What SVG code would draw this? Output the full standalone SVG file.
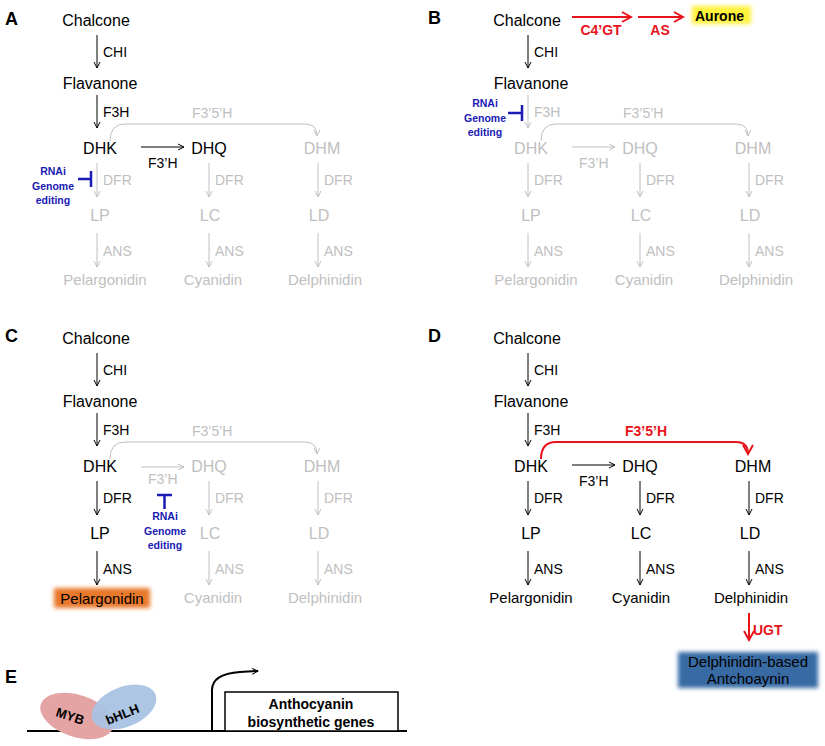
<svg xmlns="http://www.w3.org/2000/svg" width="825" height="746" viewBox="0 0 825 746">
<style>
text{font-family:"Liberation Sans",Arial,sans-serif}
.n{font-size:16px;text-anchor:middle}
.p{font-size:15px;text-anchor:middle}
.e{font-size:14px}
.k{fill:#000}.g{fill:#c0c0c0}
.lab{font-size:18px;font-weight:bold}
.bl{fill:#1a1ab4;font-size:10.5px;font-weight:bold;text-anchor:middle}
.ak{stroke:#000;stroke-width:1;fill:none;marker-end:url(#mk)}
.ag{stroke:#c0c0c0;stroke-width:1;fill:none;marker-end:url(#mg)}
.ar{stroke:#e8141c;stroke-width:2;fill:none;marker-end:url(#mr)}
.red{fill:#e8141c;font-weight:bold;font-size:14px;text-anchor:middle}
.redl{fill:#e8141c;font-weight:bold;font-size:14px}
.inh{stroke:#1a1ab4;stroke-width:2.5;fill:none}
</style>
<defs>
<marker id="mk" markerWidth="8" markerHeight="8" refX="7" refY="4" orient="auto" markerUnits="userSpaceOnUse"><path d="M1,1 L7,4 L1,7" fill="none" stroke="#000" stroke-width="1"/></marker>
<marker id="mg" markerWidth="8" markerHeight="8" refX="7" refY="4" orient="auto" markerUnits="userSpaceOnUse"><path d="M1,1 L7,4 L1,7" fill="none" stroke="#c0c0c0" stroke-width="1"/></marker>
<marker id="mr" markerWidth="12" markerHeight="12" refX="10" refY="6" orient="auto" markerUnits="userSpaceOnUse"><path d="M1,1 L10,6 L1,11" fill="none" stroke="#e8141c" stroke-width="2"/></marker>
<filter id="blur" x="-20%" y="-50%" width="140%" height="200%"><feGaussianBlur stdDeviation="2"/></filter>
</defs>

<!-- Panel A -->
<g id="panelA">
<text class="lab" x="5" y="25">A</text>
<g id="connectorsA">
<path class="ak" d="M97,35 V68"/><path class="ak" d="M97,95 V128"/>
<path class="ag" d="M110,141 Q110,124 125,124 H305 Q317,124 317,136"/>
<path class="ak" d="M141,147 H184"/>
<path class="ag" d="M97,163 V197"/><path class="ag" d="M209,163 V197"/><path class="ag" d="M318,163 V197"/>
<path class="ag" d="M97,233 V267"/><path class="ag" d="M209,233 V267"/><path class="ag" d="M318,233 V267"/>
<path class="inh" d="M78,179 H91 M91,171 V187"/>
</g>
<text id="a_chal" class="n k" x="96" y="26">Chalcone</text>
<text class="e k" x="103" y="57">CHI</text>
<text id="a_flav" class="n k" x="100" y="89">Flavanone</text>
<text class="e k" x="103" y="117">F3H</text>
<text class="e g" x="192" y="118">F3’5’H</text>
<text id="a_dhk" class="n k" x="100" y="154">DHK</text>
<text class="e k" x="148" y="168">F3’H</text>
<text id="a_dhq" class="n k" x="209" y="154">DHQ</text>
<text id="a_dhm" class="n g" x="322" y="154">DHM</text>
<text class="e g" x="103" y="185">DFR</text><text class="e g" x="215" y="185">DFR</text><text class="e g" x="324" y="185">DFR</text>
<text class="n g" x="100" y="221">LP</text><text class="n g" x="210" y="221">LC</text><text class="n g" x="319" y="221">LD</text>
<text class="e g" x="103" y="256">ANS</text><text class="e g" x="215" y="256">ANS</text><text class="e g" x="324" y="256">ANS</text>
<text class="p g" x="105" y="285">Pelargonidin</text><text class="p g" x="213" y="285">Cyanidin</text><text class="p g" x="325" y="285">Delphinidin</text>
<text class="bl" x="53" y="175">RNAi</text><text class="bl" x="53" y="190">Genome</text><text class="bl" x="53" y="204">editing</text>
</g>

<!-- Panel B -->
<g id="panelB" transform="translate(431,0)">
<text class="lab" x="-3" y="24">B</text>
<g id="connectorsB">
<path class="ak" d="M97,35 V68"/><path class="ag" d="M97,95 V128"/>
<path class="ag" d="M110,141 Q110,124 125,124 H305 Q317,124 317,136"/>
<path class="ag" d="M141,147 H184"/>
<path class="ag" d="M97,163 V197"/><path class="ag" d="M209,163 V197"/><path class="ag" d="M318,163 V197"/>
<path class="ag" d="M97,233 V267"/><path class="ag" d="M209,233 V267"/><path class="ag" d="M318,233 V267"/>
<path class="ar" d="M141,17 H200"/><path class="ar" d="M207,17 H252"/>
<path class="inh" d="M77,113 H91 M91,105 V121"/>
</g>
<text class="n k" x="96" y="26">Chalcone</text>
<text class="red" x="170" y="35">C4’GT</text>
<text class="red" x="229" y="35">AS</text>
<rect x="261" y="6" width="59" height="18" fill="#fff23a" filter="url(#blur)"/>
<text x="264" y="21" font-size="14" font-weight="bold">Aurone</text>
<text class="e k" x="103" y="57">CHI</text>
<text class="n k" x="100" y="89">Flavanone</text>
<text class="e g" x="103" y="117">F3H</text>
<text class="e g" x="192" y="118">F3’5’H</text>
<text class="n g" x="100" y="154">DHK</text>
<text class="e g" x="148" y="168">F3’H</text>
<text class="n g" x="209" y="154">DHQ</text>
<text class="n g" x="322" y="154">DHM</text>
<text class="e g" x="103" y="185">DFR</text><text class="e g" x="215" y="185">DFR</text><text class="e g" x="324" y="185">DFR</text>
<text class="n g" x="100" y="221">LP</text><text class="n g" x="210" y="221">LC</text><text class="n g" x="319" y="221">LD</text>
<text class="e g" x="103" y="256">ANS</text><text class="e g" x="215" y="256">ANS</text><text class="e g" x="324" y="256">ANS</text>
<text class="p g" x="105" y="285">Pelargonidin</text><text class="p g" x="213" y="285">Cyanidin</text><text class="p g" x="325" y="285">Delphinidin</text>
<text class="bl" x="54" y="107">RNAi</text><text class="bl" x="54" y="122">Genome</text><text class="bl" x="54" y="136">editing</text>
</g>

<!-- Panel C -->
<g id="panelC" transform="translate(0,318)">
<text class="lab" x="5" y="24">C</text>
<g id="connectorsC">
<path class="ak" d="M97,35 V68"/><path class="ak" d="M97,95 V128"/>
<path class="ag" d="M110,141 Q110,124 125,124 H305 Q317,124 317,136"/>
<path class="ag" d="M141,149 H184"/>
<path class="ak" d="M97,163 V197"/><path class="ag" d="M209,163 V197"/><path class="ag" d="M318,163 V197"/>
<path class="ak" d="M97,233 V267"/><path class="ag" d="M209,233 V267"/><path class="ag" d="M318,233 V267"/>
<path class="inh" d="M157,177 H172 M164.5,177 V191"/>
</g>
<text class="n k" x="96" y="26">Chalcone</text>
<text class="e k" x="103" y="57">CHI</text>
<text class="n k" x="100" y="89">Flavanone</text>
<text class="e k" x="103" y="117">F3H</text>
<text class="e g" x="192" y="118">F3’5’H</text>
<text class="n k" x="100" y="154">DHK</text>
<text class="e g" x="148" y="166">F3’H</text>
<text class="n g" x="209" y="154">DHQ</text>
<text class="n g" x="322" y="154">DHM</text>
<text class="e k" x="103" y="185">DFR</text><text class="e g" x="215" y="185">DFR</text><text class="e g" x="324" y="185">DFR</text>
<text class="n k" x="100" y="221">LP</text><text class="n g" x="210" y="221">LC</text><text class="n g" x="319" y="221">LD</text>
<text class="e k" x="103" y="256">ANS</text><text class="e g" x="215" y="256">ANS</text><text class="e g" x="324" y="256">ANS</text>
<rect x="54" y="270" width="96" height="20" fill="#e8782a" filter="url(#blur)"/>
<text class="p k" x="102" y="286">Pelargonidin</text><text class="p g" x="213" y="285">Cyanidin</text><text class="p g" x="325" y="285">Delphinidin</text>
<text class="bl" x="165" y="202">RNAi</text><text class="bl" x="165" y="217">Genome</text><text class="bl" x="165" y="231">editing</text>
</g>

<!-- Panel D -->
<g id="panelD" transform="translate(431,318)">
<text class="lab" x="-3" y="24">D</text>
<g id="connectorsD">
<path class="ak" d="M97,35 V68"/><path class="ak" d="M97,95 V128"/>
<path d="M110,141 Q110,124 125,124 H305 Q317,124 317,136" stroke="#e8141c" stroke-width="2" fill="none" marker-end="url(#mr)"/>
<path class="ak" d="M141,147 H184"/>
<path class="ak" d="M97,163 V197"/><path class="ak" d="M209,163 V197"/><path class="ak" d="M318,163 V197"/>
<path class="ak" d="M97,233 V267"/><path class="ak" d="M209,233 V267"/><path class="ak" d="M318,233 V267"/>
<path class="ar" d="M318,295 V322"/>
</g>
<text class="n k" x="96" y="26">Chalcone</text>
<text class="e k" x="103" y="57">CHI</text>
<text class="n k" x="100" y="89">Flavanone</text>
<text class="e k" x="103" y="117">F3H</text>
<text class="red" x="215" y="118">F3’5’H</text>
<text class="n k" x="100" y="154">DHK</text>
<text class="e k" x="148" y="168">F3’H</text>
<text class="n k" x="209" y="154">DHQ</text>
<text class="n k" x="322" y="154">DHM</text>
<text class="e k" x="103" y="185">DFR</text><text class="e k" x="215" y="185">DFR</text><text class="e k" x="324" y="185">DFR</text>
<text class="n k" x="100" y="221">LP</text><text class="n k" x="210" y="221">LC</text><text class="n k" x="319" y="221">LD</text>
<text class="e k" x="103" y="256">ANS</text><text class="e k" x="215" y="256">ANS</text><text class="e k" x="324" y="256">ANS</text>
<text class="p k" x="100" y="285">Pelargonidin</text><text class="p k" x="210" y="285">Cyanidin</text><text class="p k" x="320" y="285">Delphinidin</text>
<text class="redl" x="322" y="317">UGT</text>
<rect x="247" y="334" width="140" height="36" fill="#386aa4" filter="url(#blur)"/>
<text class="p k" x="317" y="349" font-size="14">Delphinidin-based</text>
<text class="p k" x="317" y="366" font-size="14">Antchoaynin</text>
</g>

<!-- Panel E -->
<g id="panelE">
<text class="lab" x="5" y="683">E</text>
<path d="M27,731 H407" stroke="#000" stroke-width="2"/>
<g id="myb"><ellipse cx="77" cy="716" rx="38" ry="21" transform="rotate(18 77 716)" fill="#e4a4a4"/></g>
<g id="bhlh"><ellipse cx="124" cy="707" rx="34" ry="20" transform="rotate(-22 124 707)" fill="#a9c3e3" fill-opacity="0.95"/></g>
<text x="0" y="0" font-size="13" font-weight="bold" transform="translate(55,716) rotate(18)">MYB</text>
<text x="0" y="0" font-size="13" font-weight="bold" transform="translate(108,725) rotate(-22)">bHLH</text>
<path d="M212,731 V690 Q212,674 240,672 L258,671" stroke="#000" stroke-width="2" fill="none" marker-end="url(#mk)"/>
<g id="genes"><rect x="225" y="692" width="173" height="39" fill="#fff" stroke="#000" stroke-width="1.5"/>
<text x="311" y="709" font-size="14" font-weight="bold" text-anchor="middle">Anthocyanin</text>
<text x="311" y="727" font-size="14" font-weight="bold" text-anchor="middle">biosynthetic genes</text></g>
</g>
</svg>
